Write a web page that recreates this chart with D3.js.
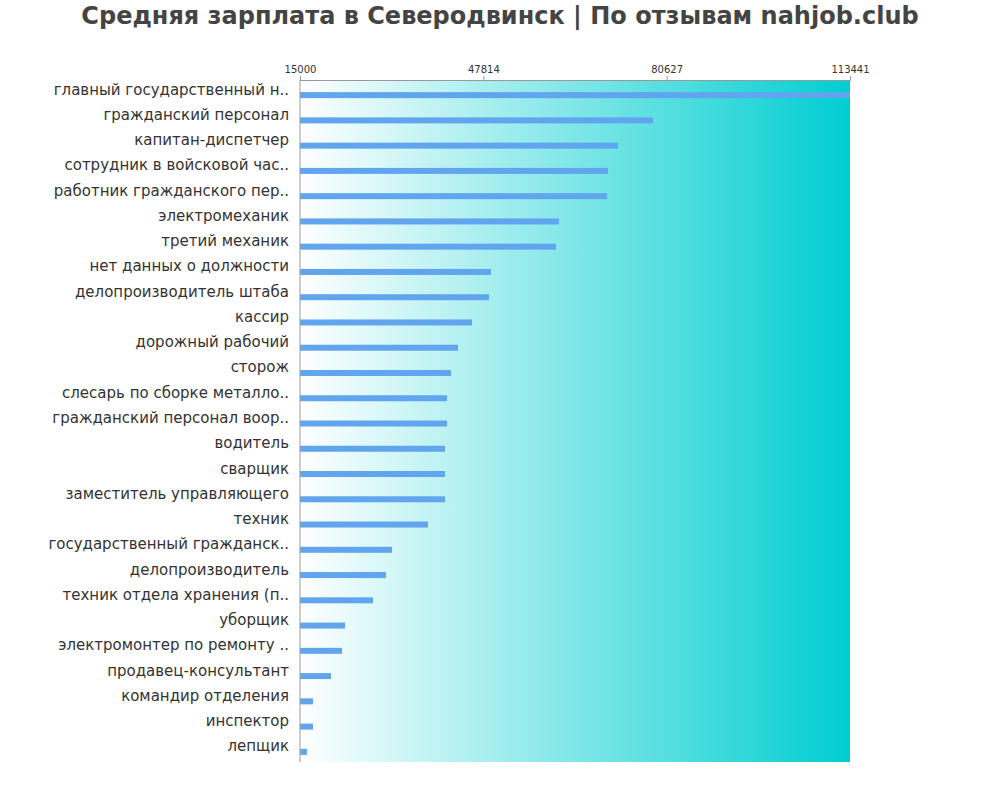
<!DOCTYPE html>
<html><head><meta charset="utf-8">
<script src="https://cdn.jsdelivr.net/npm/d3@7"></script>
<style>body{margin:0;background:#fff}</style></head>
<body><svg id="c" width="1000" height="800"></svg>
<script>
const categories=["главный государственный н..","гражданский персонал","капитан-диспетчер","сотрудник в войсковой час..","работник гражданского пер..","электромеханик","третий механик","нет данных о должности","делопроизводитель штаба","кассир","дорожный рабочий","сторож","слесарь по сборке металло..","гражданский персонал воор..","водитель","сварщик","заместитель управляющего","техник","государственный гражданск..","делопроизводитель","техник отдела хранения (п..","уборщик","электромонтер по ремонту ..","продавец-консультант","командир отделения","инспектор","лепщик"];
const values=[113441,78183,71918,70128,69950,61357,60820,49186,48829,45785,43280,42027,41311,41311,40953,40953,40953,37910,31467,30393,28066,23054,22517,20549,17327,17327,16253];
const tickValues=[15000,47814,80627,113441];
const svg=d3.select("#c");
const x=d3.scaleLinear().domain([15000,113441]).range([300,850]);
const y=d3.scaleBand().domain(categories).range([80,762]);
const defs=svg.append("defs");
const g=defs.append("linearGradient").attr("id","bg");
g.append("stop").attr("offset","0%").attr("stop-color","#ffffff");
g.append("stop").attr("offset","100%").attr("stop-color","#00ced1");
svg.append("rect").attr("x",300).attr("y",80).attr("width",550).attr("height",682).attr("fill","url(#bg)");
svg.append("text").attr("x",500).attr("y",24).attr("text-anchor","middle").attr("font-family","DejaVu Sans").attr("font-weight","bold").attr("font-size",24).attr("fill","#444").text("Средняя зарплата в Северодвинск | По отзывам nahjob.club");
svg.selectAll(".bar").data(values).enter().append("rect").attr("fill","#60a5ee")
 .attr("x",x(15000)).attr("y",(d,i)=>y(categories[i])+y.bandwidth()/2-0.5).attr("height",6)
 .attr("width",d=>x(d)-x(15000));
svg.selectAll(".lab").data(categories).enter().append("text").attr("x",289).attr("y",d=>y(d)+y.bandwidth()/2+2)
 .attr("text-anchor","end").attr("font-family","DejaVu Sans").attr("font-size",15).attr("fill","#333").text(d=>d);
const ax=svg.append("g").attr("transform","translate(0,80)").call(d3.axisTop(x).tickValues(tickValues).tickFormat(d3.format("d")).tickSize(4));
ax.selectAll("text").attr("font-family","DejaVu Sans").attr("font-size",10).attr("fill","#333");
ax.select(".domain").attr("stroke","#999");ax.selectAll("line").attr("stroke","#999");
svg.append("line").attr("x1",300).attr("x2",300).attr("y1",80).attr("y2",762).attr("stroke","#999");
</script></body></html>
